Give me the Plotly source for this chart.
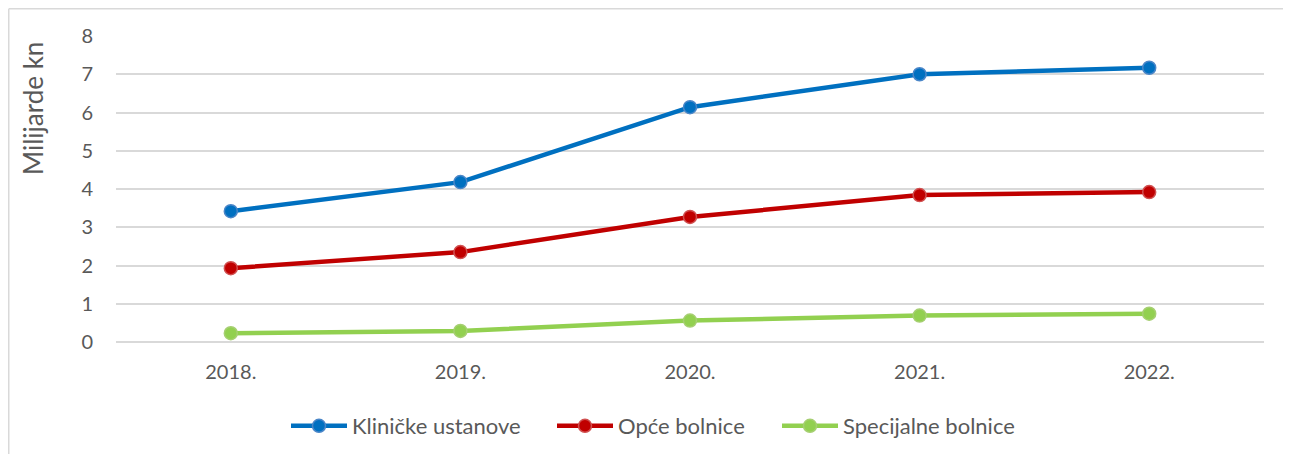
import plotly.graph_objects as go

# data
years = ["2018.", "2019.", "2020.", "2021.", "2022."]
klinicke = [3.42, 4.18, 6.14, 7.0, 7.17]
opce = [1.93, 2.35, 3.27, 3.84, 3.92]
specijalne = [0.23, 0.29, 0.56, 0.69, 0.74]

# name, values, line colour, marker edge, legend id, legend line start (page px)
series = [
    ("Kliničke ustanove", klinicke, "#0070C0", "#4A86C8", "legend", 291),
    ("Opće bolnice", opce, "#C00000", "#D05050", "legend2", 557),
    ("Specijalne bolnice", specijalne, "#92D050", "#A6CF72", "legend3", 782),
]

# the page puts the figure 8px in from the top-left corner
OFF = 8
W, H = 1291 - 2 * OFF, 462 - 2 * OFF
ML, MT = 116 - OFF, 36 - OFF
MR = W - (1264 - OFF)
MB = H - (342 - OFF)
pw = W - ML - MR
ph = H - MT - MB

FONT = "Lato, 'Open Sans', sans-serif"
GREY = "#595959"


def px_x(page_x):
    return (page_x - OFF - ML) / pw


def px_y(page_y):
    return 1 - (page_y - OFF - MT) / ph


fig = go.Figure()

legends = {}
for name, vals, col, edge, leg, lx in series:
    fig.add_trace(go.Scatter(
        x=years, y=vals,
        mode="lines+markers",
        name=name,
        legend=leg,
        line=dict(color=col, width=4.5),
        marker=dict(size=13, color=col, line=dict(color=edge, width=1.5)),
    ))
    legends[leg] = dict(
        orientation="h",
        x=px_x(lx - 5), xanchor="left",
        y=px_y(426), yanchor="middle",
        font=dict(size=22, color=GREY, family=FONT),
        itemwidth=56,
        bgcolor="rgba(0,0,0,0)",
        borderwidth=0,
    )

fig.update_layout(
    width=W, height=H,
    margin=dict(l=ML, r=MR, t=MT, b=MB, autoexpand=False),
    paper_bgcolor="white",
    plot_bgcolor="white",
    font=dict(family=FONT, color=GREY, size=20),
    xaxis=dict(
        type="category",
        range=[-0.5, 4.5],
        showgrid=False,
        showline=False,
        zeroline=False,
        ticks="",
        ticklabelstandoff=16,
        tickfont=dict(size=20, color=GREY),
    ),
    yaxis=dict(
        range=[0, 8],
        dtick=1,
        showgrid=True,
        gridcolor="#D9D9D9",
        gridwidth=1.5,
        zeroline=True,
        zerolinecolor="#D9D9D9",
        zerolinewidth=1.5,
        showline=False,
        ticks="",
        ticklabelstandoff=22,
        tickfont=dict(size=20, color=GREY),
    ),
    showlegend=True,
    annotations=[dict(
        text="Milijarde kn",
        xref="paper", yref="paper",
        x=px_x(33), y=px_y(109),
        xanchor="center", yanchor="middle",
        textangle=-90,
        showarrow=False,
        font=dict(size=26, color=GREY, family=FONT),
    )],
    shapes=[
        dict(type="line", xref="paper", yref="paper",
             x0=px_x(OFF + 0.75), x1=px_x(1300), y0=px_y(OFF + 0.75), y1=px_y(OFF + 0.75),
             line=dict(color="#D9D9D9", width=1.5), layer="below"),
        dict(type="line", xref="paper", yref="paper",
             x0=px_x(OFF + 0.75), x1=px_x(OFF + 0.75), y0=px_y(OFF + 0.75), y1=px_y(480),
             line=dict(color="#D9D9D9", width=1.5), layer="below"),
    ],
)
fig.update_layout(**legends)

fig.write_html("out.html")
